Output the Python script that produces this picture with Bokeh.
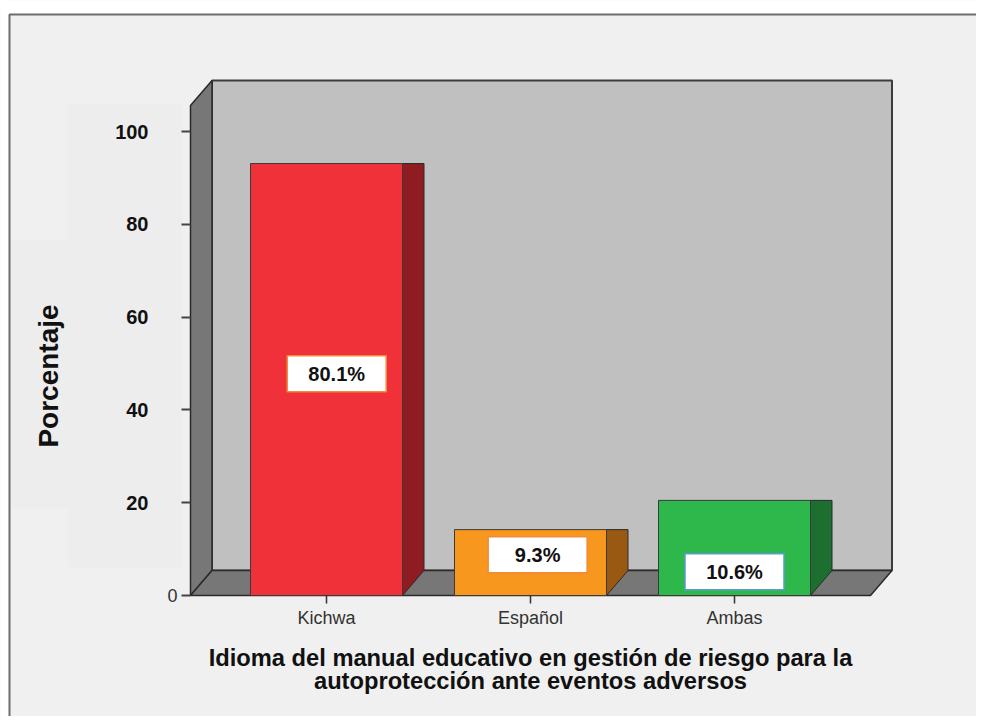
import numpy as np
from bokeh.plotting import figure
from bokeh.models import Range1d, LinearAxis, FixedTicker, ColumnDataSource
from bokeh.core.properties import value
from bokeh.embed import file_html
from bokeh.resources import INLINE

# ---------------- data ----------------
categories = ["Kichwa", "Español", "Ambas"]
bar_heights = [93.1, 14.2, 20.5]          # heights as drawn in the picture
label_texts = ["80.1%", "9.3%", "10.6%"]  # printed labels
y_ticks = [0, 20, 40, 60, 80, 100]
x_title_lines = ["Idioma del manual educativo en gestión de riesgo para la",
                 "autoprotección ante eventos adversos"]
y_title = "Porcentaje"

front_colors = ["#f0313a", "#f7971e", "#2eb84b"]
side_colors = ["#8f1c21", "#9a5913", "#1c6f2e"]
label_borders = ["#f08a3c", "#f08a3c", "#5b9bd5"]

# ---------------- layout (page pixels -> data units) ----------------
W, H = 976, 716
PAGE = 0
CAT0_PX, CAT_PX = 326.0, 204.0
ZERO_PX, UNIT_PX = 595.0, 4.64


def xd(px):
    return (px - CAT0_PX) / CAT_PX


def yd(py):
    return (ZERO_PX - py) / UNIT_PX


XL, XR = xd(190), xd(870)          # front left / right of the 3D box
DX, DY = 21.5 / CAT_PX, 25.0 / UNIT_PX  # depth offset
YT = yd(105)                       # top of the box (front)
BW = 152.0 / CAT_PX                # bar front width
LABEL_Y = [47.8, 8.8, 5.1]
LABEL_DX = [0.05, 0.035, 0.0]
FONT = value("Liberation Sans")

p = figure(width=W, height=H, x_range=Range1d(xd(PAGE), xd(PAGE + W)),
           y_range=Range1d(yd(PAGE + H), yd(PAGE)), min_border=0,
           toolbar_location=None, output_backend="svg",
           x_axis_location=None, y_axis_location=None)
p.grid.visible = False
p.outline_line_color = None
p.background_fill_color = "#f0f0f0"
p.border_fill_color = "#f0f0f0"

# subtle panels behind the tick labels
p.quad(left=[xd(67)], right=[xd(182)], bottom=[yd(567)], top=[yd(103)],
       fill_color="#ededed", line_color=None)
p.quad(left=[xd(8)], right=[xd(67)], bottom=[yd(508)], top=[yd(240)],
       fill_color="#ededed", line_color=None)

# white strip above outer frame + outer frame lines
p.quad(left=[xd(-10)], right=[xd(1000)], bottom=[yd(14)], top=[yd(-10)],
       fill_color="white", line_color=None)
p.quad(left=[xd(-10)], right=[xd(8)], bottom=[yd(740)], top=[yd(-10)],
       fill_color="white", line_color=None)
p.line(x=[xd(9), xd(9), xd(1000)], y=[yd(740), yd(14), yd(14)],
       line_color="#6e6e6e", line_width=2)

# back wall
p.patch(x=[XL + DX, XR + DX, XR + DX, XL + DX], y=[DY, DY, YT + DY, YT + DY],
        fill_color="#c0c0c0", line_color="#3c3c3c", line_width=2)
# left wall
p.patch(x=[XL, XL + DX, XL + DX, XL], y=[0, DY, YT + DY, YT],
        fill_color="#777777", line_color="#2a2a2a", line_width=1.5)
# floor
p.patch(x=[XL, XR, XR + DX, XL + DX], y=[0, 0, DY, DY],
        fill_color="#777777", line_color="#2a2a2a", line_width=1.5)

cx = np.arange(len(categories), dtype=float)
h = np.array(bar_heights)

# bar sides
side_xs = [[c + BW / 2, c + BW / 2 + DX, c + BW / 2 + DX, c + BW / 2] for c in cx]
side_ys = [[0, DY, hh, hh] for hh in h]
p.patches(xs=side_xs, ys=side_ys, fill_color=side_colors,
          line_color="#2a2a2a", line_width=1)

# bar fronts
src = ColumnDataSource(dict(left=cx - BW / 2, right=cx + BW / 2, top=h,
                            bottom=np.zeros_like(h), color=front_colors))
p.quad(left="left", right="right", top="top", bottom="bottom", source=src,
       fill_color="color", line_color="#3a3a3a", line_width=1)

# value labels
lab = ColumnDataSource(dict(x=cx + np.array(LABEL_DX), y=LABEL_Y,
                            text=label_texts, border=label_borders))
p.rect(x="x", y="y", width=99, height=36, width_units="screen",
       height_units="screen", source=lab, fill_color="white",
       line_color="border", line_width=1.5)
p.text(x="x", y="y", text="text", source=lab, text_font=FONT,
       text_font_style="bold", text_font_size="20px", text_color="#111111",
       text_align="center", text_baseline="middle")

# y axis on the front edge of the left wall
yax = LinearAxis(fixed_location=XL, ticker=FixedTicker(ticks=y_ticks),
                 major_label_overrides={0: ""})
yax.axis_line_color = None
yax.major_tick_out = 9
yax.major_tick_in = 0
yax.major_tick_line_color = "#444444"
yax.major_tick_line_width = 2
yax.minor_tick_line_color = None
yax.major_label_text_font = "Liberation Sans"
yax.major_label_text_font_style = "bold"
yax.major_label_text_font_size = "20px"
yax.major_label_text_color = "#111111"
yax.major_label_standoff = 33
p.add_layout(yax, "left")

# the "0" label (plain, close to the axis)
p.text(x=[XL], y=[0], text=["0"], x_offset=-13, text_font=FONT,
       text_font_size="18px", text_color="#333333", text_align="right",
       text_baseline="middle")

# category axis along the floor front edge
xax = LinearAxis(fixed_location=0, ticker=FixedTicker(ticks=list(cx)),
                 major_label_overrides={i: c for i, c in enumerate(categories)})
xax.axis_line_color = None
xax.major_tick_out = 8
xax.major_tick_in = 0
xax.major_tick_line_color = "#333333"
xax.major_tick_line_width = 1.5
xax.minor_tick_line_color = None
xax.major_label_text_font = "Liberation Sans"
xax.major_label_text_font_size = "18px"
xax.major_label_text_color = "#333333"
xax.major_label_standoff = 4
p.add_layout(xax, "below")

# titles
p.text(x=[1.0, 1.0], y=[yd(657), yd(680)], text=x_title_lines, text_font=FONT,
       text_font_style="bold", text_font_size="23.7px", text_color="#111111",
       text_align="center", text_baseline="middle")
p.text(x=[xd(47.5)], y=[yd(375.5)], text=[y_title], angle=np.pi / 2,
       text_font=FONT, text_font_style="bold", text_font_size="28px",
       text_color="#111111", text_align="center", text_baseline="middle")

open("out.html", "w").write(file_html(p, INLINE))
